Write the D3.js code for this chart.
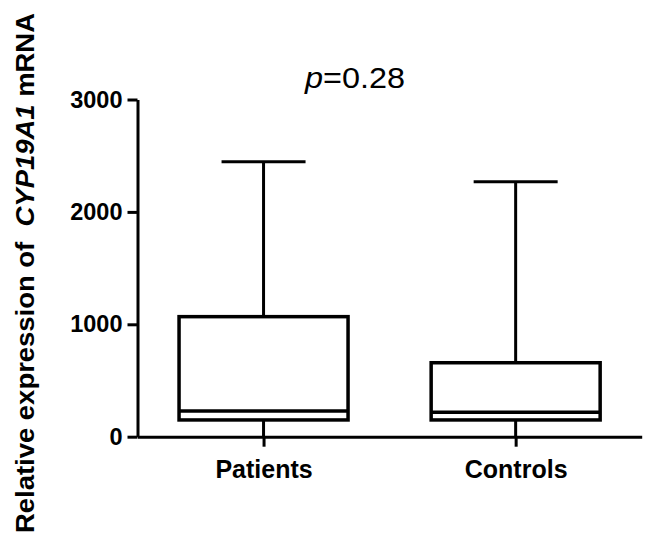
<!DOCTYPE html>
<html>
<head>
<meta charset="utf-8">
<script src="https://cdn.jsdelivr.net/npm/d3@7"></script>
<style>
  body { margin: 0; background: #fff; }
  svg { font-family: Arial, "Liberation Sans", sans-serif; }
</style>
</head>
<body>
<div class="chart"></div>
<script>
const groups = ['Patients', 'Controls'];
const mins = [0, 0];
const q1s = [149, 149];
const medians = [229, 217];
const q3s = [1068, 658];
const maxs = [2447, 2269];
const yTicks = [0, 1000, 2000, 3000];

const width = 657;
const height = 541;

const svg = d3
  .select('div.chart')
  .append('svg')
  .attr('width', width)
  .attr('height', height);

const y = d3.scaleLinear().domain([0, 3000]).range([436.7, 99.5]);
const x = d3.scalePoint().domain(groups).range([137.5, 641.7]).padding(0.5);

const boxHalf = 84.5;
const capHalf = 42;

// y axis
const yAxis = svg
  .append('g')
  .attr('transform', 'translate(137.5,0)')
  .call(d3.axisLeft(y).tickValues(yTicks).tickSize(10).tickSizeOuter(0).tickPadding(5).tickFormat(d3.format('d')));

yAxis.selectAll('path, line').attr('stroke', '#000').attr('stroke-width', 3);
yAxis.selectAll('text')
  .attr('font-size', 23.5)
  .attr('font-weight', 'bold')
  .attr('fill', '#000');

// x axis
const xAxis = svg
  .append('g')
  .attr('transform', `translate(0,${y(0)})`)
  .call(d3.axisBottom(x).tickSize(10).tickSizeOuter(0).tickPadding(14));

xAxis.selectAll('path, line').attr('stroke', '#000').attr('stroke-width', 3);
xAxis.selectAll('text')
  .attr('font-size', 25)
  .attr('font-weight', 'bold')
  .attr('fill', '#000');

// boxes
const rows = groups.map((g, i) => ({
  name: g,
  min: mins[i],
  q1: q1s[i],
  median: medians[i],
  q3: q3s[i],
  max: maxs[i],
}));

const box = svg.selectAll('g.box').data(rows).enter().append('g').attr('class', 'box');

box.append('line')
  .attr('x1', (d) => x(d.name))
  .attr('x2', (d) => x(d.name))
  .attr('y1', (d) => y(d.q3))
  .attr('y2', (d) => y(d.max))
  .attr('stroke', '#000')
  .attr('stroke-width', 3);

box.append('line')
  .attr('x1', (d) => x(d.name))
  .attr('x2', (d) => x(d.name))
  .attr('y1', (d) => y(d.q1))
  .attr('y2', (d) => y(d.min))
  .attr('stroke', '#000')
  .attr('stroke-width', 3);

box.append('line')
  .attr('x1', (d) => x(d.name) - capHalf)
  .attr('x2', (d) => x(d.name) + capHalf)
  .attr('y1', (d) => y(d.max))
  .attr('y2', (d) => y(d.max))
  .attr('stroke', '#000')
  .attr('stroke-width', 3);

box.append('rect')
  .attr('x', (d) => x(d.name) - boxHalf)
  .attr('width', boxHalf * 2)
  .attr('y', (d) => y(d.q3))
  .attr('height', (d) => y(d.q1) - y(d.q3))
  .attr('fill', '#fff')
  .attr('stroke', '#000')
  .attr('stroke-width', 3.5);

box.append('line')
  .attr('x1', (d) => x(d.name) - boxHalf)
  .attr('x2', (d) => x(d.name) + boxHalf)
  .attr('y1', (d) => y(d.median))
  .attr('y2', (d) => y(d.median))
  .attr('stroke', '#000')
  .attr('stroke-width', 3.5);

// p value
const pText = svg
  .append('text')
  .attr('x', 305)
  .attr('y', 88)
  .attr('font-size', 29)
  .attr('fill', '#000')
  .attr('textLength', 100)
  .attr('lengthAdjust', 'spacingAndGlyphs');
pText.append('tspan').attr('font-style', 'italic').text('p');
pText.append('tspan').text('=0.28');

// y label
const yLabel = svg
  .append('text')
  .attr('transform', 'translate(33.5,273) rotate(-90)')
  .attr('text-anchor', 'middle')
  .attr('font-size', 25)
  .attr('font-weight', 'bold')
  .attr('fill', '#000')
  .attr('textLength', 520)
  .attr('lengthAdjust', 'spacingAndGlyphs');
yLabel.append('tspan').text('Relative expression of\u00a0 ');
yLabel.append('tspan').attr('font-style', 'italic').text('CYP19A1');
yLabel.append('tspan').text(' mRNA');
</script>
</body>
</html>
